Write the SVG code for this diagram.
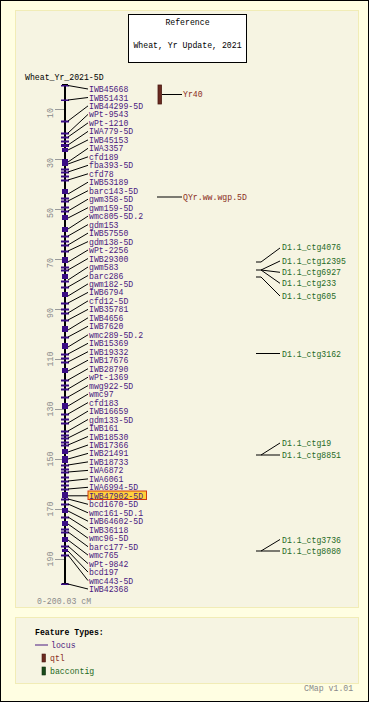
<svg xmlns="http://www.w3.org/2000/svg" width="369" height="702" viewBox="0 0 369 702">
<style>
text{font-family:"Liberation Mono","DejaVu Sans Mono",monospace;font-size:8.2px}
.lc{fill:#4b1a80}
.qt{fill:#8b2e22}
.bc{fill:#1f6a1f}
.bk{fill:#000}
.gr{fill:#8a8a8a}
.con line{stroke:#000;stroke-width:1}
.tick{stroke:#9a9a9a;stroke-width:1}
.fm{fill:#3a0d85}
</style>
<rect x="0.5" y="0.5" width="368" height="701" fill="#fffee2" stroke="#000"/>
<rect x="15.5" y="10.5" width="343" height="597" fill="#f6f4e2" stroke="#f1ecb6"/>
<rect x="15.5" y="617.5" width="343" height="66" fill="#f6f4e2" stroke="#f1ecb6"/>
<g id="title">
<rect x="128.5" y="14.5" width="118" height="48" fill="#fff" stroke="#000"/>
<text class="bk" x="187.5" y="25" text-anchor="middle">Reference</text>
<text class="bk" x="187.5" y="48" text-anchor="middle">Wheat, Yr Update, 2021</text>
</g>
<text class="bk" x="25" y="79.5">Wheat_Yr_2021-5D</text>
<g id="scale">
<line class="tick" x1="55" y1="109.5" x2="64" y2="109.5"/>
<line class="tick" x1="55" y1="159.5" x2="64" y2="159.5"/>
<line class="tick" x1="55" y1="209.5" x2="64" y2="209.5"/>
<line class="tick" x1="55" y1="259.5" x2="64" y2="259.5"/>
<line class="tick" x1="55" y1="309.5" x2="64" y2="309.5"/>
<line class="tick" x1="55" y1="359.5" x2="64" y2="359.5"/>
<line class="tick" x1="55" y1="409.5" x2="64" y2="409.5"/>
<line class="tick" x1="55" y1="459.5" x2="64" y2="459.5"/>
<line class="tick" x1="55" y1="509.5" x2="64" y2="509.5"/>
<line class="tick" x1="55" y1="559.5" x2="64" y2="559.5"/>
<text class="gr" transform="translate(53,113) rotate(-90)" text-anchor="middle">10</text>
<text class="gr" transform="translate(53,163) rotate(-90)" text-anchor="middle">30</text>
<text class="gr" transform="translate(53,213) rotate(-90)" text-anchor="middle">50</text>
<text class="gr" transform="translate(53,263) rotate(-90)" text-anchor="middle">70</text>
<text class="gr" transform="translate(53,313) rotate(-90)" text-anchor="middle">90</text>
<text class="gr" transform="translate(53,359) rotate(-90)" text-anchor="middle">110</text>
<text class="gr" transform="translate(53,409) rotate(-90)" text-anchor="middle">130</text>
<text class="gr" transform="translate(53,459) rotate(-90)" text-anchor="middle">150</text>
<text class="gr" transform="translate(53,509) rotate(-90)" text-anchor="middle">170</text>
<text class="gr" transform="translate(53,559) rotate(-90)" text-anchor="middle">190</text>
<text class="gr" x="37" y="604">0-200.03 cM</text>
</g>
<g id="axis">
<rect x="64" y="84" width="2" height="501" fill="#000"/>
<rect x="62" y="84" width="6" height="1.5" fill="#000"/>
<rect x="62" y="583" width="6" height="1.5" fill="#000"/>
</g>
<g id="features" class="fm">
<rect x="61" y="85" width="8" height="1.5"/>
<rect x="61" y="99.5" width="8" height="1.5"/>
<rect x="61" y="120.5" width="8" height="2"/>
<rect x="61" y="132.5" width="8" height="2"/>
<rect x="61" y="136.5" width="8" height="2"/>
<rect x="61" y="140.5" width="8" height="2"/>
<rect x="61" y="144" width="8" height="3"/>
<rect x="62" y="148" width="6" height="4"/>
<rect x="62" y="159" width="6" height="7"/>
<rect x="61" y="168.5" width="8" height="2"/>
<rect x="61" y="171.5" width="8" height="2"/>
<rect x="61" y="175.5" width="8" height="2"/>
<rect x="61" y="179.5" width="8" height="2"/>
<rect x="62" y="189" width="6" height="5"/>
<rect x="61" y="197.5" width="8" height="2"/>
<rect x="61" y="200.5" width="8" height="2"/>
<rect x="61" y="206.5" width="8" height="2"/>
<rect x="61" y="210.5" width="8" height="2"/>
<rect x="62" y="215" width="6" height="5"/>
<rect x="62" y="227" width="6" height="5"/>
<rect x="61" y="235.5" width="8" height="2"/>
<rect x="61" y="240.5" width="8" height="2"/>
<rect x="61" y="244.5" width="8" height="2"/>
<rect x="61" y="250.5" width="8" height="2"/>
<rect x="62" y="257" width="6" height="6"/>
<rect x="61" y="266.5" width="8" height="2"/>
<rect x="61" y="269.5" width="8" height="2"/>
<rect x="62" y="274" width="6" height="5"/>
<rect x="61" y="280.5" width="8" height="2"/>
<rect x="61" y="286.5" width="8" height="2"/>
<rect x="62" y="292" width="6" height="5"/>
<rect x="61" y="302.5" width="8" height="2"/>
<rect x="61" y="308.5" width="8" height="2"/>
<rect x="61" y="312.5" width="8" height="2"/>
<rect x="61" y="319.5" width="8" height="2"/>
<rect x="62" y="326" width="6" height="6"/>
<rect x="61" y="336.5" width="8" height="2"/>
<rect x="62" y="343" width="6" height="6"/>
<rect x="61" y="353.5" width="8" height="2"/>
<rect x="61" y="357.5" width="8" height="2"/>
<rect x="61" y="361.5" width="8" height="2"/>
<rect x="62" y="368" width="6" height="5"/>
<rect x="61" y="379.5" width="8" height="2"/>
<rect x="61" y="384.5" width="8" height="2"/>
<rect x="61" y="388.5" width="8" height="2"/>
<rect x="61" y="396.5" width="8" height="2"/>
<rect x="62" y="403" width="6" height="6"/>
<rect x="61" y="413.5" width="8" height="2"/>
<rect x="61" y="418.5" width="8" height="2"/>
<rect x="61" y="422.5" width="8" height="2"/>
<rect x="61" y="430.5" width="8" height="2"/>
<rect x="61" y="434.5" width="8" height="2"/>
<rect x="61" y="437.5" width="8" height="2"/>
<rect x="61" y="441.5" width="8" height="2"/>
<rect x="61" y="444.5" width="8" height="2"/>
<rect x="62" y="449" width="6" height="5"/>
<rect x="62" y="456" width="6" height="7"/>
<rect x="61" y="464.5" width="8" height="2"/>
<rect x="61" y="468.5" width="8" height="2"/>
<rect x="61" y="471.5" width="8" height="2"/>
<rect x="61" y="476.5" width="8" height="2"/>
<rect x="61" y="480.5" width="8" height="2"/>
<rect x="61" y="484.5" width="8" height="2"/>
<rect x="61" y="488.5" width="8" height="2"/>
<rect x="62" y="492" width="6" height="6"/>
<rect x="61" y="498.5" width="8" height="2"/>
<rect x="61" y="503.5" width="8" height="2"/>
<rect x="62" y="508" width="6" height="5"/>
<rect x="61" y="516.5" width="8" height="2"/>
<rect x="62" y="521" width="6" height="5"/>
<rect x="61" y="528.5" width="8" height="2"/>
<rect x="61" y="531.5" width="8" height="2"/>
<rect x="62" y="537" width="6" height="5"/>
<rect x="61" y="545.5" width="8" height="2"/>
<rect x="62" y="549" width="6" height="3"/>
<rect x="61" y="554.5" width="8" height="2"/>
<rect x="61" y="583.5" width="8" height="1.5"/>
</g>
<g id="connectors" class="con">
<line x1="68" y1="85.5" x2="88" y2="89"/>
<line x1="68" y1="100" x2="88" y2="97.5"/>
<line x1="68" y1="121" x2="88" y2="105.9"/>
<line x1="68" y1="133" x2="88" y2="114.4"/>
<line x1="68" y1="137" x2="88" y2="122.9"/>
<line x1="68" y1="145" x2="88" y2="131.4"/>
<line x1="68" y1="150" x2="88" y2="139.9"/>
<line x1="68" y1="162" x2="88" y2="148.3"/>
<line x1="68" y1="164" x2="88" y2="156.8"/>
<line x1="68" y1="172" x2="88" y2="165.3"/>
<line x1="68" y1="180" x2="88" y2="173.8"/>
<line x1="68" y1="194" x2="88" y2="182.2"/>
<line x1="68" y1="201" x2="88" y2="190.7"/>
<line x1="68" y1="211" x2="88" y2="199.2"/>
<line x1="68" y1="218" x2="88" y2="207.7"/>
<line x1="68" y1="229" x2="88" y2="216.1"/>
<line x1="68" y1="236" x2="88" y2="224.6"/>
<line x1="68" y1="245" x2="88" y2="233.1"/>
<line x1="68" y1="251" x2="88" y2="241.6"/>
<line x1="68" y1="262" x2="88" y2="250"/>
<line x1="68" y1="270" x2="88" y2="258.5"/>
<line x1="68" y1="280" x2="88" y2="267"/>
<line x1="68" y1="287" x2="88" y2="275.5"/>
<line x1="68" y1="296" x2="88" y2="283.9"/>
<line x1="68" y1="303" x2="88" y2="292.4"/>
<line x1="68" y1="313" x2="88" y2="300.9"/>
<line x1="68" y1="320" x2="88" y2="309.4"/>
<line x1="68" y1="330" x2="88" y2="317.8"/>
<line x1="68" y1="337" x2="88" y2="326.3"/>
<line x1="68" y1="347" x2="88" y2="334.8"/>
<line x1="68" y1="354" x2="88" y2="343.3"/>
<line x1="68" y1="362" x2="88" y2="351.7"/>
<line x1="68" y1="371" x2="88" y2="360.2"/>
<line x1="68" y1="380" x2="88" y2="368.7"/>
<line x1="68" y1="389" x2="88" y2="377.2"/>
<line x1="68" y1="397" x2="88" y2="385.6"/>
<line x1="68" y1="406" x2="88" y2="394.1"/>
<line x1="68" y1="414" x2="88" y2="402.6"/>
<line x1="68" y1="423" x2="88" y2="411.1"/>
<line x1="68" y1="431" x2="88" y2="419.5"/>
<line x1="68" y1="438" x2="88" y2="428"/>
<line x1="68" y1="445" x2="88" y2="436.5"/>
<line x1="68" y1="452" x2="88" y2="445"/>
<line x1="68" y1="459" x2="88" y2="453.4"/>
<line x1="68" y1="465" x2="88" y2="461.9"/>
<line x1="68" y1="472" x2="88" y2="470.4"/>
<line x1="68" y1="481" x2="88" y2="478.9"/>
<line x1="68" y1="489" x2="88" y2="487.3"/>
<line x1="68" y1="495.8" x2="88" y2="495.8"/>
<line x1="68" y1="499" x2="88" y2="504.3"/>
<line x1="68" y1="504" x2="88" y2="512.8"/>
<line x1="68" y1="511" x2="88" y2="521.2"/>
<line x1="68" y1="517" x2="88" y2="529.7"/>
<line x1="68" y1="524" x2="88" y2="538.2"/>
<line x1="68" y1="532" x2="88" y2="546.7"/>
<line x1="68" y1="540" x2="88" y2="555.1"/>
<line x1="68" y1="546" x2="88" y2="563.6"/>
<line x1="68" y1="551" x2="88" y2="572.1"/>
<line x1="68" y1="555" x2="88" y2="580.6"/>
<line x1="68" y1="584" x2="88" y2="589"/>
<line x1="162" y1="94.5" x2="182" y2="94.5"/>
<line x1="157" y1="197" x2="182" y2="197"/>
<line x1="256" y1="262" x2="261" y2="262"/>
<line x1="261" y1="262" x2="280" y2="248"/>
<line x1="256" y1="270" x2="261" y2="270"/>
<line x1="261" y1="270" x2="280" y2="261"/>
<line x1="261" y1="270" x2="280" y2="272.3"/>
<line x1="261" y1="270" x2="280" y2="283.3"/>
<line x1="256" y1="277" x2="261" y2="277"/>
<line x1="261" y1="277" x2="280" y2="296"/>
<line x1="256" y1="353.5" x2="280" y2="353.5"/>
<line x1="256" y1="455" x2="261" y2="455"/>
<line x1="261" y1="455" x2="280" y2="443"/>
<line x1="261" y1="455" x2="280" y2="455"/>
<line x1="256" y1="551" x2="261" y2="551"/>
<line x1="261" y1="551" x2="280" y2="539.5"/>
<line x1="261" y1="551" x2="280" y2="551"/>
</g>
<g id="loci" class="lc">
<text x="89" y="92">IWB45668</text>
<text x="89" y="100.5">IWB51431</text>
<text x="89" y="108.9">IWB44299-5D</text>
<text x="89" y="117.4">wPt-9543</text>
<text x="89" y="125.9">wPt-1210</text>
<text x="89" y="134.4">IWA779-5D</text>
<text x="89" y="142.9">IWB45153</text>
<text x="89" y="151.3">IWA3357</text>
<text x="89" y="159.8">cfd189</text>
<text x="89" y="168.3">fba393-5D</text>
<text x="89" y="176.8">cfd78</text>
<text x="89" y="185.2">IWB53189</text>
<text x="89" y="193.7">barc143-5D</text>
<text x="89" y="202.2">gwm358-5D</text>
<text x="89" y="210.7">gwm159-5D</text>
<text x="89" y="219.1">wmc805-5D.2</text>
<text x="89" y="227.6">gdm153</text>
<text x="89" y="236.1">IWB57550</text>
<text x="89" y="244.6">gdm138-5D</text>
<text x="89" y="253">wPt-2256</text>
<text x="89" y="261.5">IWB29300</text>
<text x="89" y="270">gwm583</text>
<text x="89" y="278.5">barc286</text>
<text x="89" y="286.9">gwm182-5D</text>
<text x="89" y="295.4">IWB6794</text>
<text x="89" y="303.9">cfd12-5D</text>
<text x="89" y="312.4">IWB35781</text>
<text x="89" y="320.8">IWB4656</text>
<text x="89" y="329.3">IWB7620</text>
<text x="89" y="337.8">wmc289-5D.2</text>
<text x="89" y="346.3">IWB15369</text>
<text x="89" y="354.7">IWB19332</text>
<text x="89" y="363.2">IWB17676</text>
<text x="89" y="371.7">IWB28790</text>
<text x="89" y="380.2">wPt-1369</text>
<text x="89" y="388.6">mwg922-5D</text>
<text x="89" y="397.1">wmc97</text>
<text x="89" y="405.6">cfd183</text>
<text x="89" y="414.1">IWB16659</text>
<text x="89" y="422.5">gdm133-5D</text>
<text x="89" y="431">IWB161</text>
<text x="89" y="439.5">IWB18530</text>
<text x="89" y="448">IWB17366</text>
<text x="89" y="456.4">IWB21491</text>
<text x="89" y="464.9">IWB18733</text>
<text x="89" y="473.4">IWA6872</text>
<text x="89" y="481.9">IWA6061</text>
<text x="89" y="490.3">IWA6994-5D</text>
<g id="highlight">
<rect x="88" y="491" width="58.5" height="8.5" fill="#ffd23c" stroke="#d03a10"/>
<text x="89" y="498.8">IWB47902-5D</text>
</g>
<text x="89" y="507.3">bcd1670-5D</text>
<text x="89" y="515.8">wmc161-5D.1</text>
<text x="89" y="524.2">IWB64602-5D</text>
<text x="89" y="532.7">IWB36118</text>
<text x="89" y="541.2">wmc96-5D</text>
<text x="89" y="549.7">barc177-5D</text>
<text x="89" y="558.1">wmc765</text>
<text x="89" y="566.6">wPt-9842</text>
<text x="89" y="575.1">bcd197</text>
<text x="89" y="583.6">wmc443-5D</text>
<text x="89" y="592">IWB42368</text>
</g>
<g id="qtl-Yr40">
<rect x="158" y="85" width="3.5" height="19" fill="#6a2a20" stroke="#4a1a12" stroke-width="0.8"/>
<text class="qt" x="183" y="97.3">Yr40</text>
</g>
<g id="qtl-QYr">
<text class="qt" x="183" y="200">QYr.ww.wgp.5D</text>
</g>
<g id="baccontigs" class="bc">
<text x="282" y="250.3">D1.1_ctg4076</text>
<text x="282" y="264">D1.1_ctg12395</text>
<text x="282" y="275.3">D1.1_ctg6927</text>
<text x="282" y="286.3">D1.1_ctg233</text>
<text x="282" y="299">D1.1_ctg605</text>
<text x="282" y="356.5">D1.1_ctg3162</text>
<text x="282" y="446">D1.1_ctg19</text>
<text x="282" y="458">D1.1_ctg8851</text>
<text x="282" y="542.5">D1.1_ctg3736</text>
<text x="282" y="554">D1.1_ctg8080</text>
</g>
<g id="legend">
<text class="bk" x="35" y="634.5" font-weight="bold">Feature Types:</text>
<line x1="35" y1="645" x2="48" y2="645" stroke="#4b1a80" stroke-width="1"/>
<text class="lc" x="51" y="648">locus</text>
<rect x="42" y="654" width="3.5" height="8" fill="#6a2a20" stroke="#4a1a12" stroke-width="0.6"/>
<text class="qt" x="50" y="661">qtl</text>
<rect x="42" y="667" width="3.5" height="8" fill="#1a4a1a" stroke="#0e300e" stroke-width="0.6"/>
<text class="bc" x="50" y="674">baccontig</text>
</g>
<text class="gr" x="304" y="691">CMap v1.01</text>
</svg>
